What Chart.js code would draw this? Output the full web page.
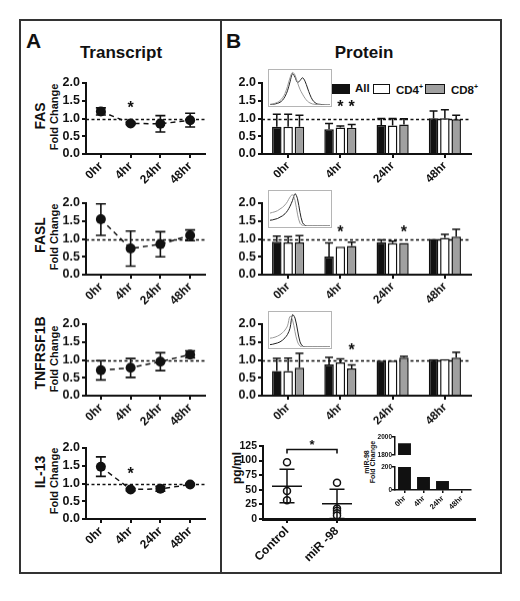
<!DOCTYPE html>
<html><head><meta charset="utf-8">
<script src="https://cdn.jsdelivr.net/npm/chart.js@4.4.0/dist/chart.umd.min.js"></script>
<style>
html,body{margin:0;padding:0;background:#fff;width:520px;height:601px;overflow:hidden;font-family:"Liberation Sans",Arial,Helvetica,sans-serif;color:#111;}
canvas{position:absolute;}
.frame{position:absolute;left:19px;top:19px;width:479px;height:551px;border:2px solid #333;}
.divider{position:absolute;left:220px;top:19px;width:2px;height:555px;background:#333;}
.t{position:absolute;font-weight:bold;white-space:nowrap;line-height:1;}
.rot{transform:translate(-50%,-50%) rotate(-90deg);}
.sq{position:absolute;box-sizing:border-box;border:1.5px solid #111;}
.hist{position:absolute;box-sizing:border-box;border:1px solid #b5b5b5;background:#fff;}
</style></head><body>
<div class="frame"></div>
<div class="divider"></div>
<div class="t" style="left:26px;top:30px;font-size:21px;">A</div>
<div class="t" style="left:226px;top:30px;font-size:21px;">B</div>
<div class="t" style="left:121px;top:44px;font-size:17px;transform:translateX(-50%);">Transcript</div>
<div class="t" style="left:364px;top:44px;font-size:17px;transform:translateX(-50%);">Protein</div>

<div class="t rot" style="left:40px;top:116px;font-size:14px;">FAS</div>
<div class="t rot" style="left:54px;top:117px;font-size:11px;">Fold Change</div>
<div class="t rot" style="left:40px;top:235px;font-size:14px;">FASL</div>
<div class="t rot" style="left:54px;top:237px;font-size:11px;">Fold Change</div>
<div class="t rot" style="left:40px;top:353px;font-size:14px;">TNFRSF1B</div>
<div class="t rot" style="left:54px;top:359px;font-size:11px;">Fold Change</div>
<div class="t rot" style="left:40px;top:472px;font-size:14px;">IL-13</div>
<div class="t rot" style="left:54px;top:481px;font-size:11px;">Fold Change</div>

<div class="t rot" style="left:237px;top:468px;font-size:12px;">pg/ml</div>
<div class="t rot" style="left:365.5px;top:462px;font-size:7px;">miR-98</div>
<div class="t rot" style="left:372px;top:462px;font-size:7px;">Fold Change</div>

<div class="sq" style="left:332px;top:84px;width:18px;height:10px;background:#111;"></div>
<div class="t" style="left:355px;top:83px;font-size:11.5px;">All</div>
<div class="sq" style="left:373px;top:84px;width:17px;height:10px;background:#fff;"></div>
<div class="t" style="left:396px;top:83px;font-size:11.5px;">CD4<sup style="font-size:7px;">+</sup></div>
<div class="sq" style="left:425px;top:84px;width:20px;height:10px;background:#a0a0a0;"></div>
<div class="t" style="left:451px;top:83px;font-size:11.5px;">CD8<sup style="font-size:7px;">+</sup></div>

<script>
const FONT='"Liberation Sans", Arial, Helvetica, sans-serif';
Chart.defaults.font.family=FONT;
Chart.defaults.color='#111';
Chart.defaults.animation=false;

// ---------- DATA ----------
const timeLabels=['0hr','4hr','24hr','48hr'];
// Panel A: transcript fold change (mean, lower and upper error ends)
const fasMean=[1.20,0.86,0.85,0.95];
const fasLow =[1.10,0.83,0.62,0.76];
const fasHigh=[1.30,0.89,1.08,1.15];
const faslMean=[1.55,0.73,0.85,1.10];
const faslLow =[1.10,0.24,0.50,0.95];
const faslHigh=[1.98,1.22,1.20,1.25];
const tnfMean=[0.71,0.78,0.95,1.15];
const tnfLow =[0.44,0.51,0.70,1.06];
const tnfHigh=[0.98,1.04,1.20,1.25];
const il13Mean=[1.47,0.83,0.85,0.97];
const il13Low =[1.20,0.80,0.78,0.95];
const il13High=[1.75,0.86,0.92,1.00];
// Panel B: protein fold change by subset (mean and upper error end)
const subsetLabels=['All','CD4+','CD8+'];
const pFasAll=[0.77,0.70,0.82,1.01], pFasAllHi=[1.12,0.86,1.00,1.21];
const pFasCD4=[0.77,0.75,0.80,1.01], pFasCD4Hi=[1.12,0.79,1.00,1.25];
const pFasCD8=[0.77,0.74,0.83,0.98], pFasCD8Hi=[1.09,0.83,0.99,1.09];
const pFaslAll=[0.92,0.51,0.91,1.00], pFaslAllHi=[1.08,0.89,0.97,1.00];
const pFaslCD4=[0.90,0.78,0.88,1.03], pFaslCD4Hi=[1.06,0.79,0.94,1.13];
const pFaslCD8=[0.90,0.80,0.89,1.06], pFaslCD8Hi=[1.09,0.91,0.91,1.27];
const pTnfAll=[0.69,0.87,0.98,1.02], pTnfAllHi=[1.04,1.07,0.99,1.02];
const pTnfCD4=[0.69,0.93,0.98,1.02], pTnfCD4Hi=[1.05,1.03,0.99,1.02];
const pTnfCD8=[0.78,0.76,1.06,1.06], pTnfCD8Hi=[1.18,0.86,1.10,1.21];
// flow histograms (relative counts across the fluorescence range)
const hist1Gray =[0.02,0.03,0.05,0.08,0.13,0.21,0.34,0.55,0.80,0.96,0.88,0.66,0.46,0.32,0.20,0.11,0.06,0.03,0.02,0.01,0.01,0,0,0,0];
const hist1Black=[0.01,0.02,0.03,0.05,0.08,0.14,0.25,0.42,0.68,0.92,0.82,0.66,0.72,0.80,0.70,0.50,0.30,0.15,0.07,0.03,0.02,0.01,0,0,0];
const hist2Gray =[0.38,0.40,0.42,0.45,0.50,0.55,0.62,0.72,0.85,0.92,0.75,0.35,0.08,0.02,0,0,0,0,0,0,0,0,0,0,0];
const hist2Black=[0.17,0.18,0.20,0.22,0.26,0.30,0.36,0.45,0.58,0.75,0.95,0.80,0.40,0.10,0.02,0,0,0,0,0,0,0,0,0,0];
const hist3Gray =[0.26,0.27,0.29,0.32,0.36,0.42,0.50,0.62,0.90,0.80,0.45,0.15,0.03,0,0,0,0,0,0,0,0,0,0,0,0];
const hist3Black=[0.07,0.08,0.10,0.12,0.15,0.20,0.27,0.37,0.55,0.95,0.85,0.50,0.15,0.03,0,0,0,0,0,0,0,0,0,0,0];
// pg/ml secreted protein
const groupLabels=['Control','miR -98'];
const controlPts=[97,48,32];
const mirPts=[62,18,14,10,6];
const groupMean=[56,26];
const groupSdLo=[28,1];
const groupSdHi=[85,51];
// miR-98 fold change inset
const mirFold=[1930,113,78,8];

// ---------- PLUGIN ----------
const extras={
  id:'extras',
  beforeDatasetsDraw(chart,args,o){
    const {ctx,chartArea:a,scales}=chart; const y=scales.y;
    ctx.save();
    if(o.ref!=null){
      ctx.setLineDash([3,2.5]); ctx.lineWidth=1.6; ctx.strokeStyle='#111';
      const py=Math.round(y.getPixelForValue(o.ref))+0.5;
      ctx.beginPath(); ctx.moveTo(a.left,py); ctx.lineTo(a.right,py); ctx.stroke();
      ctx.setLineDash([]);
    }
    if(o.lo){
      const meta=chart.getDatasetMeta(0);
      ctx.lineWidth=1.6; ctx.strokeStyle='#111';
      o.lo.forEach((lo,i)=>{
        const x=meta.data[i].x, y1=y.getPixelForValue(lo), y2=y.getPixelForValue(o.hi[i]);
        ctx.beginPath(); ctx.moveTo(x,y1); ctx.lineTo(x,y2);
        ctx.moveTo(x-5,y1); ctx.lineTo(x+5,y1); ctx.moveTo(x-5,y2); ctx.lineTo(x+5,y2); ctx.stroke();
      });
    }
    ctx.restore();
  },
  afterDatasetsDraw(chart,args,o){
    const {ctx,chartArea:a,scales}=chart; const y=scales.y;
    ctx.save();
    ctx.strokeStyle='#111'; ctx.lineWidth=1.5;
    if(o.barHi){
      o.barHi.forEach((arr,d)=>{
        const meta=chart.getDatasetMeta(d);
        arr.forEach((hv,i)=>{
          const b=meta.data[i]; const top=y.getPixelForValue(hv);
          if(top<b.y-1){
            ctx.beginPath(); ctx.moveTo(b.x,b.y); ctx.lineTo(b.x,top);
            ctx.moveTo(b.x-4,top); ctx.lineTo(b.x+4,top); ctx.stroke();
          }
        });
      });
    }
    if(o.groups){
      const x=scales.x;
      ctx.save(); ctx.beginPath(); ctx.rect(a.left,a.top-10,a.right-a.left,a.bottom-a.top+10); ctx.clip();
      ctx.lineWidth=1.5;
      o.groups.mean.forEach((m,i)=>{
        const px=x.getPixelForValue(i), pm=y.getPixelForValue(m), pl=y.getPixelForValue(o.groups.lo[i]), ph=y.getPixelForValue(o.groups.hi[i]);
        ctx.beginPath(); ctx.moveTo(px-15,pm); ctx.lineTo(px+15,pm);
        ctx.moveTo(px,pl); ctx.lineTo(px,ph);
        ctx.moveTo(px-7.5,pl); ctx.lineTo(px+7.5,pl); ctx.moveTo(px-7.5,ph); ctx.lineTo(px+7.5,ph);
        ctx.stroke();
      });
      ctx.restore();
    }
    if(o.bracket){
      const x=scales.x; const b=o.bracket;
      const x1=x.getPixelForValue(b.from), x2=x.getPixelForValue(b.to), py=y.getPixelForValue(b.v);
      ctx.lineWidth=1.6;
      ctx.beginPath(); ctx.moveTo(x1,py+4); ctx.lineTo(x1,py); ctx.lineTo(x2,py); ctx.lineTo(x2,py+4); ctx.stroke();
      ctx.fillStyle='#111'; ctx.font='bold 13px '+FONT; ctx.textAlign='center'; ctx.textBaseline='top';
      ctx.fillText('*',(x1+x2)/2,py-11);
    }
    if(o.stars){
      ctx.fillStyle='#111'; ctx.font='bold 16px '+FONT; ctx.textAlign='center'; ctx.textBaseline='top';
      o.stars.forEach(s=>{
        const meta=chart.getDatasetMeta(s.ds||0);
        const px=meta.data[s.i].x; const py=y.getPixelForValue(s.v);
        ctx.fillText('*',px,py-4);
      });
    }
    ctx.restore();
  }
};
Chart.register(extras);

// ---------- HELPERS ----------
function place(box,cfg){
  const c=document.createElement('canvas');
  const w=(box.R-box.L)+box.yw+box.pr, h=(box.B-box.T)+box.pt+box.xh;
  c.width=w; c.height=h;
  c.style.left=(box.L-box.yw)+'px'; c.style.top=(box.T-box.pt)+'px';
  c.style.width=w+'px'; c.style.height=h+'px';
  document.body.appendChild(c);
  const o=cfg.options;
  o.responsive=false; o.maintainAspectRatio=false; o.animation=false;
  o.layout={autoPadding:false,padding:{left:0,right:box.pr,top:box.pt,bottom:0}};
  o.plugins=Object.assign({legend:{display:false},tooltip:{enabled:false}},o.plugins||{});
  o.scales.x.afterFit=s=>{s.height=box.xh;};
  o.scales.y.afterFit=s=>{s.width=box.yw;};
  return new Chart(c,cfg);
}
function yAxis(min,max,step,size,fmt,extra){
  return Object.assign({type:'linear',min,max,
    ticks:{stepSize:step,autoSkip:false,font:{size:size,weight:'bold'},color:'#111',padding:2,callback:fmt},
    grid:{drawOnChartArea:false,drawTicks:true,tickLength:4,color:'#111',lineWidth:2},
    border:{color:'#111',width:2}},extra||{});
}
function xCat(size,extra){
  return Object.assign({type:'category',offset:true,
    ticks:{font:{size:size,weight:'bold'},color:'#111',minRotation:45,maxRotation:45,padding:1,autoSkip:false},
    grid:{offset:false,drawOnChartArea:false,drawTicks:true,tickLength:4,color:'#111',lineWidth:2},
    border:{color:'#111',width:2}},extra||{});
}
const f1=v=>Number(v).toFixed(1);

// ---------- PANEL A ----------
function transcript(top,bottom,mean,lo,hi,stars){
  place({L:86,R:205,T:top,B:bottom,yw:66,xh:44,pr:14,pt:10},{
    type:'line',
    data:{labels:timeLabels,datasets:[{data:mean,borderColor:'#111',borderWidth:1.5,borderDash:[5,4],
      pointRadius:5,pointBackgroundColor:'#111',pointBorderWidth:0,tension:0}]},
    options:{scales:{x:xCat(12),y:yAxis(0,2,0.5,12.5,f1)},
      plugins:{extras:{ref:1,lo,hi,stars}}}
  });
}
transcript(83,154,fasMean,fasLow,fasHigh,[{i:1,v:1.38}]);
transcript(203,274.5,faslMean,faslLow,faslHigh,null);
transcript(324,395.5,tnfMean,tnfLow,tnfHigh,null);
transcript(448,519,il13Mean,il13Low,il13High,[{i:1,v:1.35}]);

// ---------- PANEL B bars ----------
function protein(top,bottom,all,cd4,cd8,hiAll,hi4,hi8,stars){
  const ds=(d,bg)=>({data:d,backgroundColor:bg,borderColor:'#111',borderWidth:1.5,borderSkipped:'start',
    categoryPercentage:0.65,barPercentage:0.84});
  place({L:262,R:471,T:top,B:bottom,yw:40,xh:44,pr:20,pt:10},{
    type:'bar',
    data:{labels:timeLabels,datasets:[
      Object.assign(ds(all,'#111'),{label:subsetLabels[0]}),
      Object.assign(ds(cd4,'#fff'),{label:subsetLabels[1]}),
      Object.assign(ds(cd8,'#a0a0a0'),{label:subsetLabels[2]})]},
    options:{scales:{x:xCat(11.5),y:yAxis(0,2,0.5,12.5,f1)},
      plugins:{extras:{ref:1,barHi:[hiAll,hi4,hi8],stars}}}
  });
}
protein(83,154,pFasAll,pFasCD4,pFasCD8,pFasAllHi,pFasCD4Hi,pFasCD8Hi,[{i:1,ds:1,v:1.41},{i:1,ds:2,v:1.41}]);
protein(203,274.5,pFaslAll,pFaslCD4,pFaslCD8,pFaslAllHi,pFaslCD4Hi,pFaslCD8Hi,[{i:1,ds:1,v:1.29},{i:2,ds:2,v:1.29}]);
protein(324,395.5,pTnfAll,pTnfCD4,pTnfCD8,pTnfAllHi,pTnfCD4Hi,pTnfCD8Hi,[{i:1,ds:2,v:1.37}]);

// ---------- histograms ----------
function hist(top,gray,black){
  const c=document.createElement('canvas');
  c.width=62; c.height=36; c.className='hist';
  c.style.left='268px'; c.style.top=top+'px'; c.style.width='64px'; c.style.height='38px';
  document.body.appendChild(c);
  new Chart(c,{type:'line',
    data:{labels:gray.map((_,i)=>i),datasets:[
      {data:gray,borderColor:'#9a9a9a',borderWidth:1,pointRadius:0,tension:0.35},
      {data:black,borderColor:'#222',borderWidth:1,pointRadius:0,tension:0.35}]},
    options:{responsive:false,animation:false,layout:{padding:{left:1,right:1,top:1,bottom:1}},
      plugins:{legend:{display:false},tooltip:{enabled:false}},
      scales:{x:{display:false},y:{display:false,min:0,max:1}}}});
}
hist(69,hist1Gray,hist1Black);
hist(190,hist2Gray,hist2Black);
hist(311,hist3Gray,hist3Black);

// ---------- pg/ml scatter ----------
place({L:263,R:475,T:446,B:519,yw:36,xh:60,pr:10,pt:14},{
  type:'scatter',
  data:{datasets:[
    {data:controlPts.map(v=>({x:0,y:v})),pointRadius:3.5,pointBackgroundColor:'#fff',pointBorderColor:'#111',pointBorderWidth:1.5},
    {data:mirPts.map(v=>({x:1,y:v})),pointRadius:3.5,pointBackgroundColor:'#fff',pointBorderColor:'#111',pointBorderWidth:1.5}]},
  options:{scales:{
    x:{type:'linear',min:-0.48,max:3.76,afterBuildTicks:s=>{s.ticks=[{value:0},{value:1}];},
      ticks:{callback:v=>groupLabels[v],font:{size:12,weight:'bold'},color:'#111',minRotation:45,maxRotation:45,padding:1},
      grid:{drawOnChartArea:false,drawTicks:true,tickLength:4,color:'#111',lineWidth:2},
      border:{color:'#111',width:3}},
    y:yAxis(0,125,25,10.5,v=>v)},
    plugins:{extras:{groups:{mean:groupMean,lo:groupSdLo,hi:groupSdHi},bracket:{from:0,to:1,v:119}}}}
});

// ---------- miR-98 inset (broken axis) ----------
function insetDs(){return [{data:mirFold,backgroundColor:'#111',borderWidth:0,categoryPercentage:1,barPercentage:0.68}];}
function insetY(min,max,step){return yAxis(min,max,step,6.5,v=>v,{grid:{drawOnChartArea:false,drawTicks:true,tickLength:3,color:'#111',lineWidth:1.5},border:{color:'#111',width:1.5},ticks:{stepSize:step,autoSkip:false,font:{size:6.5,weight:'bold'},color:'#111',padding:0,callback:v=>v}});}
place({L:395,R:471,T:437,B:459,yw:20,xh:0,pr:10,pt:6},{
  type:'bar',data:{labels:timeLabels,datasets:insetDs()},
  options:{scales:{x:{type:'category',display:false},y:insetY(1800,2000,200)}}
});
place({L:395,R:471,T:467,B:490,yw:20,xh:30,pr:10,pt:6},{
  type:'bar',data:{labels:timeLabels,datasets:insetDs()},
  options:{scales:{x:xCat(7.5,{grid:{offset:false,drawOnChartArea:false,drawTicks:true,tickLength:3,color:'#111',lineWidth:1.5},border:{color:'#111',width:1.5}}),y:insetY(0,200,200)}}
});
</script>
</body></html>
